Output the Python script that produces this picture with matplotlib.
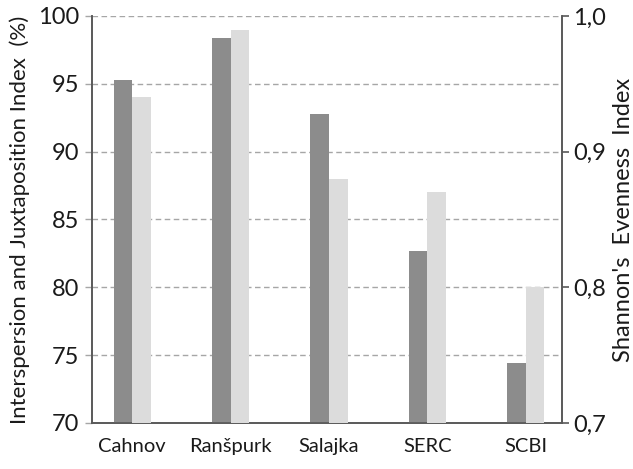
"""Paired bar chart: IJI (left axis) and Shannon's evenness (right axis) per forest plot."""

import matplotlib

matplotlib.use("Agg")
import matplotlib.pyplot as plt
import numpy as np
from matplotlib.ticker import FuncFormatter

plt.rcParams["font.family"] = ["Lato", "DejaVu Sans"]

SITES = ["Cahnov", "Ranšpurk", "Salajka", "SERC", "SCBI"]
IJI_PERCENT = [95.3, 98.4, 92.8, 82.7, 74.4]
SHANNON_EVENNESS = [0.940, 0.990, 0.880, 0.870, 0.800]

DARK = "#8c8c8c"
LIGHT = "#dcdcdc"
GRID = "#a6a6a6"
SPINE = "#595959"
TEXT = "#1a1a1a"


def comma_decimal(value, _pos):
    return f"{value:.1f}".replace(".", ",")


def main() -> None:
    fig = plt.figure(figsize=(6.33, 4.69), dpi=100)
    ax = fig.add_axes([0.1453, 0.0981, 0.7425, 0.8678])
    ax2 = ax.twinx()

    x = np.arange(len(SITES))
    width = 0.19

    ax.bar(x - width / 2, IJI_PERCENT, width, color=DARK, zorder=3)
    ax2.bar(x + width / 2, SHANNON_EVENNESS, width, color=LIGHT, zorder=3)

    ax.set_xlim(-0.41, 4.37)
    ax.set_ylim(70, 100)
    ax.set_yticks(range(70, 101, 5))
    ax2.set_ylim(0.7, 1.0)
    ax2.set_yticks([0.7, 0.8, 0.9, 1.0])
    ax2.yaxis.set_major_formatter(FuncFormatter(comma_decimal))

    ax.yaxis.grid(True, linestyle=(0, (4, 2.5)), color=GRID, linewidth=1.0, zorder=0)
    ax.set_axisbelow(True)

    ax.set_xticks(x, SITES)
    ax.tick_params(axis="x", length=0, pad=11, labelsize=14.5, colors=TEXT)
    ax.tick_params(axis="y", direction="out", length=5, width=1.0, color=GRID,
                   labelsize=17, labelcolor=TEXT, pad=4)
    ax2.tick_params(axis="y", direction="out", length=5, width=1.2, color=SPINE,
                    labelsize=17, labelcolor=TEXT, pad=3)

    for axis in (ax, ax2):
        axis.spines["top"].set_visible(False)
    for name in ("left", "right", "bottom"):
        ax.spines[name].set_color(SPINE)
        ax.spines[name].set_linewidth(1.2)
        ax2.spines[name].set_color(SPINE)
        ax2.spines[name].set_linewidth(1.2)

    ax.set_ylabel("Interspersion and Juxtaposition Index  (%)", fontsize=16,
                  color=TEXT, labelpad=6)
    ax2.set_ylabel("Shannon's  Evenness  Index", fontsize=17, color=TEXT,
                   rotation=90, labelpad=5)

    fig.savefig("out.png", dpi=100)
    plt.close(fig)


if __name__ == "__main__":
    main()
